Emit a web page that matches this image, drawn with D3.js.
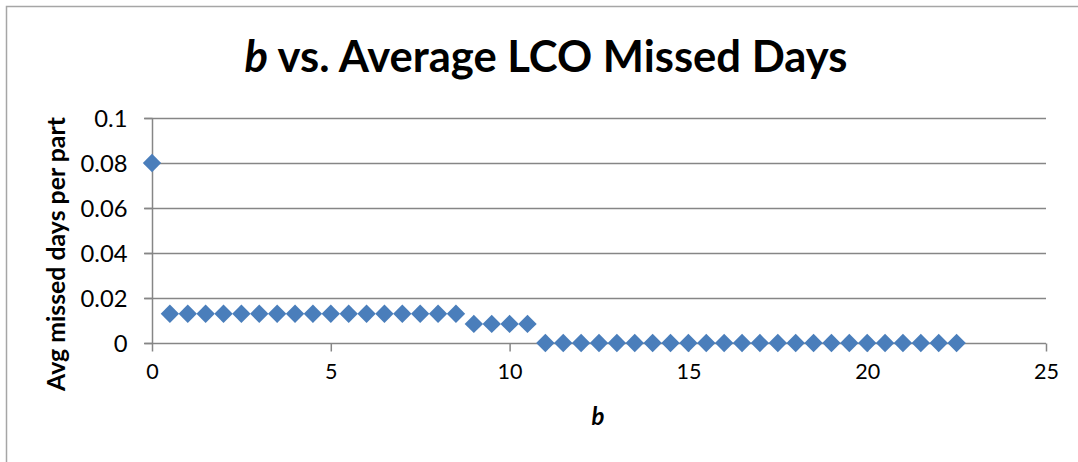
<!DOCTYPE html>
<html>
<head>
<meta charset="utf-8">
<script src="https://cdn.jsdelivr.net/npm/d3@7"></script>
<style>
  html, body { margin: 0; padding: 0; background: #fff; }
  svg { display: block; font-family: Lato, "Open Sans", sans-serif; }
</style>
</head>
<body>
<div class="chart"></div>
<script>
// data
let bValues = d3.range(0, 23, 0.5)
let missedDays = [
    0.08,
    0.013, 0.013, 0.013, 0.013, 0.013, 0.013, 0.013, 0.013, 0.013,
    0.013, 0.013, 0.013, 0.013, 0.013, 0.013, 0.013, 0.013,
    0.0085, 0.0085, 0.0085, 0.0085,
    0, 0, 0, 0, 0, 0, 0, 0, 0, 0, 0, 0,
    0, 0, 0, 0, 0, 0, 0, 0, 0, 0, 0, 0
]
let xTicks = [0, 5, 10, 15, 20, 25]
let yTicks = [0, 0.02, 0.04, 0.06, 0.08, 0.1]
let yTickLabels = ["0", "0.02", "0.04", "0.06", "0.08", "0.1"]

let width = 1078, height = 462
let margin = { left: 152, right: 32, top: 118, bottom: 119 }
let gridColor = "#868686", markColor = "#4a7ebb"

// font size that makes a text span the wanted width
function fitSize(node, target) {
    let size = parseFloat(window.getComputedStyle(node).fontSize)
    return size * target / node.getComputedTextLength()
}

let svg = d3.select(".chart")
    .append("svg")
    .attr("width", width)
    .attr("height", height)

// outer frame
svg.append("rect")
    .attr("x", 6.5)
    .attr("y", 6.5)
    .attr("width", width + 20)
    .attr("height", height + 20)
    .attr("fill", "none")
    .attr("stroke", "#a6a6a6")
    .attr("stroke-width", 1.5)

let x = d3.scaleLinear()
    .domain([0, 25])
    .range([margin.left, width - margin.right])
let y = d3.scaleLinear()
    .domain([0, 0.1])
    .range([height - margin.bottom, margin.top])

// gridlines (with the little tick stubs on the left)
svg.append("g")
    .selectAll("line")
    .data(yTicks.slice(1))
    .enter()
    .append("line")
    .attr("x1", x(0) - 8)
    .attr("x2", x(25))
    .attr("y1", d => Math.round(y(d)) + 0.5)
    .attr("y2", d => Math.round(y(d)) + 0.5)
    .attr("stroke", gridColor)
    .attr("stroke-width", 1.5)

// y axis
let yAxis = svg.append("g")
    .attr("transform", `translate(${Math.round(x(0)) + 0.5},0)`)
    .call(d3.axisLeft(y).tickValues(yTicks).tickSize(8).tickPadding(17)
        .tickFormat((d, i) => yTickLabels[i]))
yAxis.attr("font-family", null).attr("font-size", 22)
yAxis.select(".domain").attr("stroke", gridColor).attr("stroke-width", 1.5)
    .attr("d", `M0,${y(0.1)}V${y(0)}`)
yAxis.selectAll(".tick line").attr("stroke", gridColor).attr("stroke-width", 1.5)
yAxis.selectAll(".tick text")
    .attr("fill", "#000")
    .attr("dy", "0.36em")
let yRef = yAxis.selectAll(".tick text").filter(d => d == 0.08).node()
yAxis.attr("font-size", fitSize(yRef, 47))

// x axis
let xAxis = svg.append("g")
    .attr("transform", `translate(0,${Math.round(y(0)) + 0.5})`)
    .call(d3.axisBottom(x).tickValues(xTicks).tickSize(8).tickPadding(12)
        .tickFormat(d3.format("d")))
xAxis.attr("font-family", null).attr("font-size", 22)
xAxis.select(".domain").attr("stroke", gridColor).attr("stroke-width", 1.5)
    .attr("d", `M${x(0) - 8},0H${x(25)}`)
xAxis.selectAll(".tick line").attr("stroke", gridColor).attr("stroke-width", 1.5)
xAxis.selectAll(".tick text")
    .attr("fill", "#000")
let xRef = xAxis.selectAll(".tick text").filter(d => d == 25).node()
xAxis.attr("font-size", fitSize(xRef, 25))

// diamond markers
let half = 9.2
let diamond = `M0,${-half}L${half},0L0,${half}L${-half},0Z`
svg.append("g")
    .selectAll("path")
    .data(bValues.map((b, i) => ({ b: b, v: missedDays[i] })))
    .enter()
    .append("path")
    .attr("d", diamond)
    .attr("transform", d => `translate(${x(d.b)},${y(d.v)})`)
    .attr("fill", markColor)

// title
let title = svg.append("text")
    .attr("x", 546)
    .attr("y", 72)
    .attr("text-anchor", "middle")
    .attr("font-size", 40)
    .attr("font-weight", "bold")
title.append("tspan").attr("font-style", "italic").text("b")
title.append("tspan").text(" vs. Average LCO Missed Days")
title.attr("font-size", fitSize(title.node(), 603))

// axis titles
let yTitle = svg.append("text")
    .attr("transform", `translate(65,254) rotate(-90)`)
    .attr("text-anchor", "middle")
    .attr("font-size", 21)
    .attr("font-weight", "bold")
    .text("Avg missed days per part")
yTitle.attr("font-size", fitSize(yTitle.node(), 274))

svg.append("text")
    .attr("x", 598)
    .attr("y", 425)
    .attr("text-anchor", "middle")
    .attr("font-size", 24)
    .attr("font-weight", "bold")
    .attr("font-style", "italic")
    .text("b")
</script>
</body>
</html>
